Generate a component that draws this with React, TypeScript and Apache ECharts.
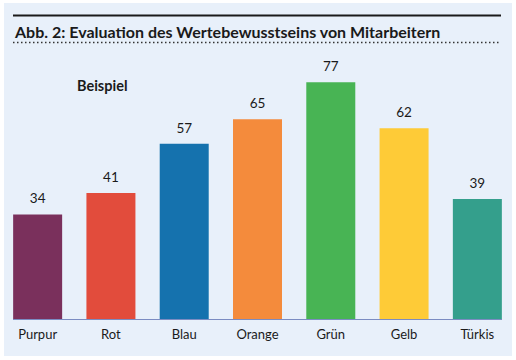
import React, { useEffect, useRef } from "react";
import * as echarts from "echarts";

const categories = ["Purpur", "Rot", "Blau", "Orange", "Grün", "Gelb", "Türkis"];
const values = [34, 41, 57, 65, 77, 62, 39];
const colors = ["#7a305c", "#e24c3c", "#1572ae", "#f48b3c", "#48b454", "#fecb37", "#349f8c"];
const titleText = "Abb. 2: Evaluation des Wertebewusstseins von Mitarbeitern";
const subtitleText = "Beispiel";

const FONT = "Lato, 'Open Sans', sans-serif";

export default function App() {
  const ref = useRef<HTMLDivElement>(null);
  useEffect(() => {
    document.body.style.margin = "0";
    const chart = echarts.init(ref.current!, null, { renderer: "svg" });
    chart.setOption({
      animation: false,
      backgroundColor: "#ffffff",
      textStyle: { fontFamily: FONT },
      grid: { left: 1, right: 2, top: 11.5, bottom: 41, containLabel: false },
      xAxis: {
        type: "category",
        data: categories,
        axisLine: { show: false },
        axisTick: { show: false },
        axisLabel: { color: "#1a1a1a", fontSize: 13, fontFamily: FONT, margin: 8 },
      },
      yAxis: {
        type: "value",
        min: 0,
        max: 100,
        show: false,
        splitLine: { show: false },
      },
      graphic: [
        { type: "rect", z: -10, shape: { x: 4, y: 3, width: 508, height: 353 }, style: { fill: "#e8f0fa" } },
        { type: "line", shape: { x1: 13, y1: 15.5, x2: 501, y2: 15.5 }, style: { stroke: "#1a1a1a", lineWidth: 2 } },
        {
          type: "text",
          x: 15,
          y: 31,
          style: { text: titleText, font: `bold 16px ${FONT}`, fill: "#1a1a1a", textVerticalAlign: "middle" },
        },
        {
          type: "line",
          shape: { x1: 13, y1: 42.5, x2: 501, y2: 42.5 },
          style: { stroke: "#333333", lineWidth: 1.5, lineDash: [1.5, 2.5] },
        },
        {
          type: "text",
          x: 77,
          y: 85,
          style: { text: subtitleText, font: `bold 14.5px ${FONT}`, fill: "#1a1a1a", textVerticalAlign: "middle" },
        },
        { type: "line", z: 100, shape: { x1: 13, y1: 319.5, x2: 502, y2: 319.5 }, style: { stroke: "#7b8cc2", lineWidth: 1 } },
      ],
      series: [
        {
          type: "bar",
          barWidth: 49,
          data: values.map((v, i) => ({ value: v, itemStyle: { color: colors[i] } })),
          label: {
            show: true,
            position: "top",
            distance: 9,
            color: "#1a1a1a",
            fontSize: 13.5,
            fontFamily: FONT,
          },
        },
      ],
    });
    return () => chart.dispose();
  }, []);
  return <div ref={ref} style={{ position: "absolute", left: 0, top: 0, width: 516, height: 360 }} />;
}
